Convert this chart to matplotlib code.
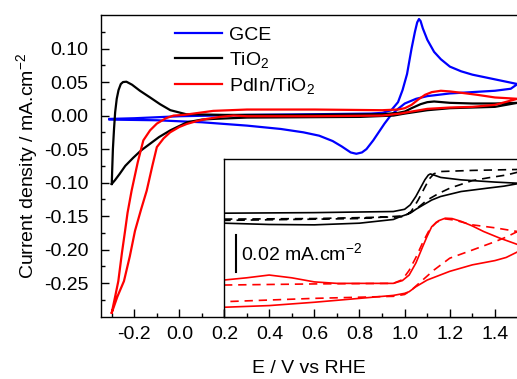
import matplotlib
matplotlib.use("Agg")
import matplotlib.pyplot as plt
import numpy as np

plt.rcParams["font.family"] = ["Liberation Sans", "DejaVu Sans"]
plt.rcParams["mathtext.default"] = "regular"
plt.rcParams["axes.unicode_minus"] = False
plt.rcParams["lines.solid_joinstyle"] = "round"
plt.rcParams["lines.dash_joinstyle"] = "round"

# --- main CV loops (E / V vs RHE, j / mA cm-2) ---
gce_e = [-0.31, -0.2, 0.0, 0.3, 0.6, 0.85, 0.9, 0.94, 0.97, 0.99, 1.01, 1.03, 1.045, 1.055,
         1.063, 1.07, 1.08, 1.1, 1.13, 1.16, 1.2, 1.25, 1.3, 1.4, 1.5,
         1.47, 1.4, 1.3, 1.2, 1.1, 1.05, 1.0, 0.97, 0.937, 0.91, 0.89, 0.86, 0.83, 0.81, 0.785,
         0.76, 0.72, 0.68, 0.62, 0.55, 0.45, 0.3, 0.1, -0.1, -0.31]
gce_j = [-0.005, -0.004, -0.001, 0.001, 0.002, 0.003, 0.004, 0.008, 0.02, 0.038, 0.062, 0.1,
         0.125, 0.139, 0.144, 0.141, 0.13, 0.113, 0.095, 0.084, 0.073, 0.066, 0.061, 0.054, 0.047,
         0.040, 0.037, 0.035, 0.033, 0.029, 0.025, 0.018, 0.01, 0.0, -0.012, -0.022, -0.037,
         -0.05, -0.055, -0.057, -0.055, -0.046, -0.038, -0.030, -0.025, -0.020, -0.015, -0.01,
         -0.007, -0.006]

tio2_e = [-0.30, -0.298, -0.295, -0.29, -0.285, -0.278, -0.27, -0.26, -0.25, -0.235, -0.21,
          -0.175, -0.13, -0.086, -0.04, 0.03, 0.2, 0.5, 0.9, 0.97, 1.0, 1.03, 1.07, 1.1, 1.13,
          1.2, 1.3, 1.4, 1.5,
          1.4, 1.3, 1.2, 1.1, 1.0, 0.95, 0.8, 0.3, 0.15, 0.1, 0.034, -0.04, -0.09, -0.13, -0.17,
          -0.205, -0.24, -0.265, -0.285, -0.30]
tio2_j = [-0.102, -0.08, -0.05, -0.02, 0.005, 0.025, 0.038, 0.047, 0.050, 0.0505, 0.046,
          0.037, 0.027, 0.017, 0.008, 0.002, 0.001, 0.001, 0.002, 0.004, 0.006, 0.011, 0.017,
          0.020, 0.021, 0.019, 0.018, 0.018, 0.019,
          0.013, 0.012, 0.011, 0.008, 0.003, 0.0, -0.002, -0.003, -0.005, -0.006, -0.010, -0.022,
          -0.032, -0.042, -0.052, -0.063, -0.075, -0.087, -0.096, -0.102]

pdin_e = [-0.30, -0.285, -0.271, -0.255, -0.241, -0.23, -0.212, -0.185, -0.16, -0.13, -0.10,
          -0.06, -0.026, 0.02, 0.063, 0.15, 0.3, 0.6, 0.9, 0.97, 1.0, 1.03, 1.06, 1.09, 1.12,
          1.16, 1.2, 1.25, 1.32, 1.4, 1.5,
          1.4, 1.3, 1.2, 1.1, 1.03, 0.98, 0.9, 0.6, 0.3, 0.24, 0.18, 0.12, 0.08, 0.033, 0.0,
          -0.041, -0.07, -0.10, -0.12, -0.145, -0.17, -0.197, -0.22, -0.246, -0.275, -0.30]
pdin_j = [-0.294, -0.27, -0.247, -0.205, -0.172, -0.145, -0.112, -0.07, -0.037, -0.022, -0.012,
          -0.004, 0.0, 0.001, 0.003, 0.007, 0.009, 0.009, 0.008, 0.009, 0.011, 0.016, 0.024, 0.031,
          0.035, 0.037, 0.036, 0.034, 0.031, 0.027, 0.025,
          0.016, 0.013, 0.012, 0.010, 0.006, 0.003, 0.0, -0.001, -0.001, 0.0, -0.002, -0.005,
          -0.008, -0.0125, -0.017, -0.025, -0.034, -0.047, -0.075, -0.112, -0.14, -0.172, -0.21,
          -0.247, -0.27, -0.294]

# --- inset: zoom of TiO2 and PdIn/TiO2 loops, offset vertically (mA cm-2) ---
tio2_a_e = [0.2, 0.6, 0.95, 1.0, 1.025, 1.05, 1.07, 1.09, 1.105, 1.114, 1.13, 1.16, 1.25, 1.4,
            1.5, 1.52,
            1.5, 1.44, 1.366, 1.25, 1.159, 1.12, 1.083, 1.05, 1.025, 1.0, 0.98, 0.95, 0.8, 0.6,
            0.4, 0.2]
tio2_a_j = [0.0559, 0.0562, 0.0568, 0.058, 0.0604, 0.065, 0.0695, 0.074, 0.0765, 0.0771, 0.0765,
            0.0752, 0.0739, 0.0727, 0.0721, 0.072,
            0.0718, 0.0705, 0.0694, 0.0676, 0.0649, 0.063, 0.0604, 0.058, 0.0559, 0.0548, 0.054,
            0.0525, 0.0505, 0.0496, 0.0498, 0.0505]
tio2_b_e = [0.2, 0.6, 1.0, 1.03, 1.06, 1.09, 1.11, 1.13, 1.16, 1.3, 1.5, 1.52,
            1.5, 1.45, 1.37, 1.3, 1.2, 1.15, 1.1, 1.05, 1.0, 0.8, 0.2]
tio2_b_j = [0.0527, 0.053, 0.054, 0.057, 0.063, 0.070, 0.0745, 0.0772, 0.0784, 0.079, 0.0795,
            0.0795,
            0.078, 0.0765, 0.075, 0.0735, 0.0694, 0.0665, 0.063, 0.058, 0.0545, 0.053, 0.052]

pdin_a_e = [0.2, 0.3, 0.4, 0.5, 0.6, 0.7, 0.95, 0.99, 1.02, 1.05, 1.08, 1.1, 1.12, 1.15, 1.18,
            1.21, 1.25, 1.3, 1.35, 1.42, 1.5, 1.52,
            1.5, 1.45, 1.4, 1.3, 1.2, 1.1, 1.05, 1.02, 1.0, 0.95, 0.8, 0.6, 0.4, 0.2]
pdin_a_j = [0.0198, 0.021, 0.0225, 0.021, 0.0188, 0.018, 0.018, 0.0195, 0.0225, 0.029, 0.0378,
            0.0435, 0.0486, 0.0518, 0.0532, 0.053, 0.0515, 0.049, 0.046, 0.0425, 0.039, 0.038,
            0.035, 0.032, 0.0303, 0.028, 0.0245, 0.0198, 0.0162, 0.0135, 0.0126, 0.0115, 0.0099,
            0.0078, 0.006, 0.0051]
pdin_b_e = [0.2, 0.6, 0.95, 0.99, 1.02, 1.05, 1.08, 1.11, 1.14, 1.18, 1.22, 1.3, 1.4, 1.5, 1.52,
            1.5, 1.45, 1.4, 1.3, 1.2, 1.13, 1.08, 1.03, 1.0, 0.95, 0.6, 0.2]
pdin_b_j = [0.0171, 0.0177, 0.018, 0.020, 0.025, 0.032, 0.040, 0.047, 0.051, 0.0528, 0.0522,
            0.0496, 0.048, 0.046, 0.0458,
            0.046, 0.043, 0.0405, 0.036, 0.0316, 0.0252, 0.0198, 0.0144, 0.012, 0.011, 0.0099,
            0.0081]

x_ticks = [-0.2, 0.0, 0.2, 0.4, 0.6, 0.8, 1.0, 1.2, 1.4]
y_ticks = [-0.25, -0.20, -0.15, -0.10, -0.05, 0.00, 0.05, 0.10]

FS = 14
W, H = 517, 379
fig = plt.figure(figsize=(W / 100, H / 100), dpi=100)
ax = fig.add_axes([100.5 / W, 1 - 316.7 / H, 417.0 / W, 301.7 / H])

ax.plot(gce_e, gce_j, color="#0000ff", lw=1.6, label="GCE")
ax.plot(tio2_e, tio2_j, color="black", lw=1.6, label="TiO$_2$")
ax.plot(pdin_e, pdin_j, color="#ff0000", lw=1.6, label="PdIn/TiO$_2$")

ax.set_xlim(-0.35, 1.5)
ax.set_ylim(-0.30, 0.15)
ax.set_xticks(x_ticks)
ax.set_xticklabels([f"{v:.1f}" for v in x_ticks])
ax.set_yticks(y_ticks)
ax.set_yticklabels([f"{v:.2f}" for v in y_ticks])
ax.set_xticks(np.arange(-0.3, 1.51, 0.2), minor=True)
ax.set_yticks(np.arange(-0.275, 0.151, 0.05), minor=True)
ax.tick_params(which="both", direction="in", top=False, right=False, labelsize=FS, width=1.0)
ax.tick_params(which="major", length=6)
ax.tick_params(axis="x", which="major", pad=7)
ax.tick_params(axis="y", which="major", pad=8.5)
ax.tick_params(which="minor", length=3)
for sp in ax.spines.values():
    sp.set_linewidth(1.0)

ax.set_xlabel("E / V vs RHE", fontsize=FS, labelpad=12)
ax.set_ylabel("Current density / mA.cm$^{-2}$", fontsize=FS, labelpad=3)

ax.legend(loc="upper left", bbox_to_anchor=(0.179, 0.962), frameon=False, fontsize=FS,
          handlelength=2.4, handletextpad=0.37, labelspacing=0.3, borderpad=0, borderaxespad=0)

# inset
ins = fig.add_axes([224.0 / W, 1 - 316.7 / H, 293.5 / W, 157.4 / H])
ins.plot(tio2_a_e, tio2_a_j, color="black", lw=1.2)
ins.plot(tio2_b_e, tio2_b_j, color="black", lw=1.2, dashes=(5, 3.5))
ins.plot(pdin_a_e, pdin_a_j, color="#ff0000", lw=1.2)
ins.plot(pdin_b_e, pdin_b_j, color="#ff0000", lw=1.2, dashes=(5, 3.5))
ins.set_xlim(0.2, 1.5)
ins.set_ylim(0.0, 0.085)
ins.set_xticks(x_ticks[2:])
ins.set_xticks(np.arange(0.3, 1.51, 0.2), minor=True)
ins.set_yticks([])
ins.tick_params(which="both", direction="in", labelbottom=False, width=1.0)
ins.tick_params(which="major", length=6)
ins.tick_params(which="minor", length=3)
for sp in ins.spines.values():
    sp.set_linewidth(1.0)

# scale bar
ins.plot([0.252, 0.252], [0.0243, 0.0443], color="black", lw=1.5)
ins.text(0.275, 0.0343, "0.02 mA.cm$^{-2}$", fontsize=FS, va="center", ha="left")

fig.savefig("out.png", dpi=100)
